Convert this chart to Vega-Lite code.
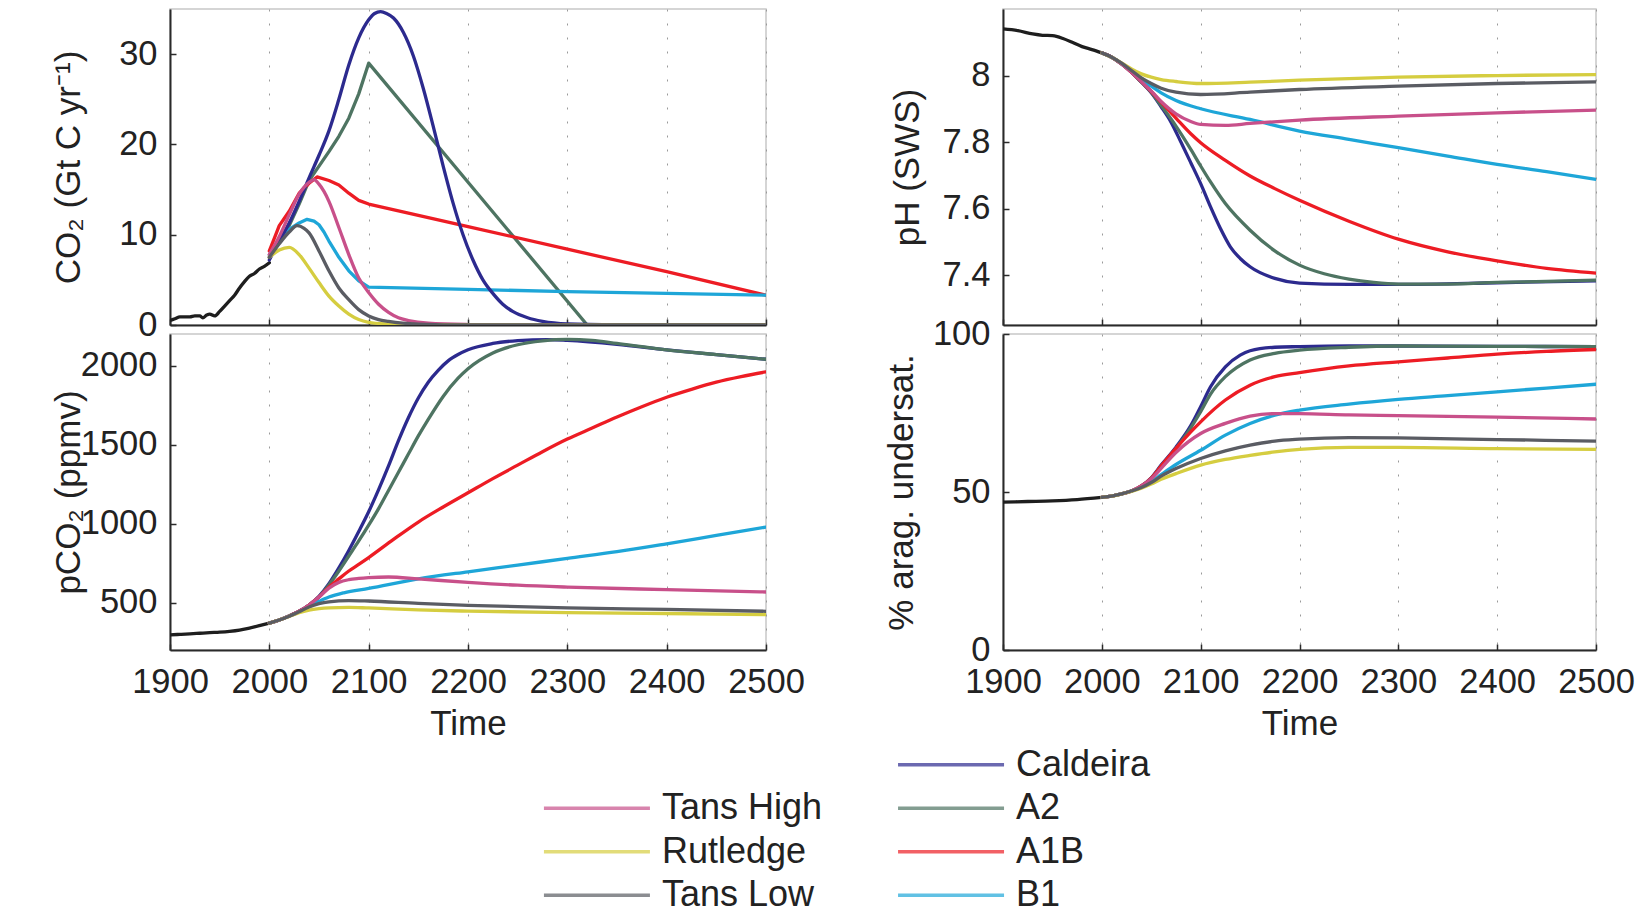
{
  "$schema": "https://vega.github.io/schema/vega-lite/v6.json",
  "padding": {"left": 50, "top": 8, "right": 5, "bottom": 0},
  "config": {
    "font": "Liberation Sans",
    "view": {"stroke": "#c8c8c8", "strokeWidth": 1.5},
    "axis": {"domainColor": "#2a2a2a", "domainWidth": 2, "tickColor": "#2a2a2a", "tickSize": -6, "tickWidth": 1.5, "labelFontSize": 34.5, "labelColor": "#222222", "titleFontSize": 35, "titleFontWeight": "normal", "titleColor": "#222222", "labelFont": "Liberation Sans", "titleFont": "Liberation Sans", "labelFlush": false, "labelOverlap": false},
    "axisX": {"grid": true, "gridDash": [2, 12], "gridColor": "#9a9a9a", "gridWidth": 1, "labelPadding": 21, "titlePadding": 8},
    "axisY": {"grid": false, "labelPadding": 19, "minExtent": 60, "maxExtent": 60, "titlePadding": 24},
    "line": {"strokeWidth": 3.3, "strokeCap": "round", "strokeJoin": "round"}
  },
  "datasets": {
    "co2": [
      {"series":"Hist","year":1900,"value":0.5},{"series":"Hist","year":1905,"value":0.7},{"series":"Hist","year":1910,"value":0.9},{"series":"Hist","year":1915,"value":0.9},{"series":"Hist","year":1920,"value":0.9},{"series":"Hist","year":1925,"value":1.0},{"series":"Hist","year":1930,"value":1.0},{"series":"Hist","year":1933,"value":0.8},{"series":"Hist","year":1937,"value":1.1},{"series":"Hist","year":1940,"value":1.2},{"series":"Hist","year":1945,"value":1.0},{"series":"Hist","year":1950,"value":1.5},{"series":"Hist","year":1955,"value":2.1},{"series":"Hist","year":1960,"value":2.7},{"series":"Hist","year":1965,"value":3.3},{"series":"Hist","year":1970,"value":4.1},{"series":"Hist","year":1975,"value":4.8},{"series":"Hist","year":1980,"value":5.4},{"series":"Hist","year":1985,"value":5.7},{"series":"Hist","year":1990,"value":6.2},{"series":"Hist","year":1995,"value":6.5},{"series":"Hist","year":2000,"value":6.9},
      {"series":"Caldeira","year":2000,"value":7.2},{"series":"Caldeira","year":2010,"value":9.3},{"series":"Caldeira","year":2020,"value":11.3},{"series":"Caldeira","year":2030,"value":13.7},{"series":"Caldeira","year":2040,"value":16.3},{"series":"Caldeira","year":2050,"value":18.8},{"series":"Caldeira","year":2060,"value":21.5},{"series":"Caldeira","year":2070,"value":25.0},{"series":"Caldeira","year":2080,"value":28.8},{"series":"Caldeira","year":2090,"value":31.8},{"series":"Caldeira","year":2100,"value":33.8},{"series":"Caldeira","year":2106,"value":34.5},{"series":"Caldeira","year":2112,"value":34.7},{"series":"Caldeira","year":2118,"value":34.5},{"series":"Caldeira","year":2125,"value":34.0},{"series":"Caldeira","year":2135,"value":32.4},{"series":"Caldeira","year":2145,"value":29.8},{"series":"Caldeira","year":2155,"value":26.2},{"series":"Caldeira","year":2165,"value":22.0},{"series":"Caldeira","year":2175,"value":17.6},{"series":"Caldeira","year":2185,"value":13.5},{"series":"Caldeira","year":2195,"value":10.0},{"series":"Caldeira","year":2205,"value":7.2},{"series":"Caldeira","year":2215,"value":5.0},{"series":"Caldeira","year":2225,"value":3.5},{"series":"Caldeira","year":2235,"value":2.3},{"series":"Caldeira","year":2245,"value":1.5},{"series":"Caldeira","year":2260,"value":0.8},{"series":"Caldeira","year":2275,"value":0.4},{"series":"Caldeira","year":2300,"value":0.12},{"series":"Caldeira","year":2350,"value":0.02},{"series":"Caldeira","year":2400,"value":0},{"series":"Caldeira","year":2500,"value":0},
      {"series":"A2","year":2000,"value":7.5},{"series":"A2","year":2010,"value":9.2},{"series":"A2","year":2020,"value":11.0},{"series":"A2","year":2030,"value":13.4},{"series":"A2","year":2040,"value":16.0},{"series":"A2","year":2050,"value":17.6},{"series":"A2","year":2060,"value":19.2},{"series":"A2","year":2070,"value":20.9},{"series":"A2","year":2080,"value":22.9},{"series":"A2","year":2090,"value":25.6},{"series":"A2","year":2100,"value":29.0},{"series":"A2","year":2320,"value":0},{"series":"A2","year":2500,"value":0},
      {"series":"A1B","year":2000,"value":8.2},{"series":"A1B","year":2005,"value":9.6},{"series":"A1B","year":2010,"value":11.0},{"series":"A1B","year":2015,"value":11.8},{"series":"A1B","year":2020,"value":12.6},{"series":"A1B","year":2025,"value":13.6},{"series":"A1B","year":2030,"value":14.6},{"series":"A1B","year":2040,"value":15.7},{"series":"A1B","year":2048,"value":16.4},{"series":"A1B","year":2060,"value":16.0},{"series":"A1B","year":2070,"value":15.5},{"series":"A1B","year":2080,"value":14.6},{"series":"A1B","year":2090,"value":13.8},{"series":"A1B","year":2100,"value":13.4},{"series":"A1B","year":2200,"value":10.9},{"series":"A1B","year":2300,"value":8.4},{"series":"A1B","year":2400,"value":5.9},{"series":"A1B","year":2500,"value":3.3},
      {"series":"B1","year":2000,"value":7.8},{"series":"B1","year":2010,"value":9.5},{"series":"B1","year":2020,"value":10.6},{"series":"B1","year":2030,"value":11.3},{"series":"B1","year":2038,"value":11.7},{"series":"B1","year":2045,"value":11.5},{"series":"B1","year":2050,"value":11.1},{"series":"B1","year":2055,"value":10.3},{"series":"B1","year":2060,"value":9.3},{"series":"B1","year":2070,"value":7.5},{"series":"B1","year":2080,"value":6.0},{"series":"B1","year":2090,"value":4.9},{"series":"B1","year":2100,"value":4.2},{"series":"B1","year":2200,"value":3.95},{"series":"B1","year":2300,"value":3.7},{"series":"B1","year":2400,"value":3.5},{"series":"B1","year":2500,"value":3.3},
      {"series":"Tans High","year":2000,"value":7.8},{"series":"Tans High","year":2010,"value":9.8},{"series":"Tans High","year":2020,"value":12.2},{"series":"Tans High","year":2030,"value":14.5},{"series":"Tans High","year":2040,"value":15.8},{"series":"Tans High","year":2045,"value":16.1},{"series":"Tans High","year":2050,"value":15.6},{"series":"Tans High","year":2055,"value":14.8},{"series":"Tans High","year":2060,"value":13.7},{"series":"Tans High","year":2070,"value":10.8},{"series":"Tans High","year":2080,"value":7.8},{"series":"Tans High","year":2090,"value":5.2},{"series":"Tans High","year":2100,"value":3.6},{"series":"Tans High","year":2110,"value":2.3},{"series":"Tans High","year":2120,"value":1.4},{"series":"Tans High","year":2130,"value":0.8},{"series":"Tans High","year":2140,"value":0.5},{"series":"Tans High","year":2160,"value":0.2},{"series":"Tans High","year":2200,"value":0.05},{"series":"Tans High","year":2250,"value":0},{"series":"Tans High","year":2500,"value":0},
      {"series":"Rutledge","year":2000,"value":7.5},{"series":"Rutledge","year":2010,"value":8.3},{"series":"Rutledge","year":2020,"value":8.6},{"series":"Rutledge","year":2030,"value":7.8},{"series":"Rutledge","year":2040,"value":6.3},{"series":"Rutledge","year":2050,"value":4.7},{"series":"Rutledge","year":2060,"value":3.2},{"series":"Rutledge","year":2070,"value":2.1},{"series":"Rutledge","year":2080,"value":1.2},{"series":"Rutledge","year":2090,"value":0.6},{"series":"Rutledge","year":2100,"value":0.3},{"series":"Rutledge","year":2120,"value":0.1},{"series":"Rutledge","year":2150,"value":0},{"series":"Rutledge","year":2500,"value":0},
      {"series":"Tans Low","year":2000,"value":7.5},{"series":"Tans Low","year":2010,"value":9.0},{"series":"Tans Low","year":2020,"value":10.3},{"series":"Tans Low","year":2028,"value":11.0},{"series":"Tans Low","year":2035,"value":10.7},{"series":"Tans Low","year":2040,"value":10.2},{"series":"Tans Low","year":2050,"value":8.2},{"series":"Tans Low","year":2060,"value":6.0},{"series":"Tans Low","year":2070,"value":4.1},{"series":"Tans Low","year":2080,"value":2.8},{"series":"Tans Low","year":2090,"value":1.7},{"series":"Tans Low","year":2100,"value":1.0},{"series":"Tans Low","year":2110,"value":0.6},{"series":"Tans Low","year":2120,"value":0.4},{"series":"Tans Low","year":2150,"value":0.1},{"series":"Tans Low","year":2200,"value":0},{"series":"Tans Low","year":2500,"value":0}
    ],
    "pco2": [
      {"series":"Hist","year":1900,"value":296},{"series":"Hist","year":1910,"value":299},{"series":"Hist","year":1920,"value":302},{"series":"Hist","year":1930,"value":306},{"series":"Hist","year":1940,"value":310},{"series":"Hist","year":1950,"value":313},{"series":"Hist","year":1960,"value":318},{"series":"Hist","year":1970,"value":326},{"series":"Hist","year":1980,"value":339},{"series":"Hist","year":1990,"value":354},{"series":"Hist","year":2000,"value":370},
      {"series":"Caldeira","year":2000,"value":370},{"series":"Caldeira","year":2010,"value":390},{"series":"Caldeira","year":2020,"value":415},{"series":"Caldeira","year":2030,"value":445},{"series":"Caldeira","year":2040,"value":485},{"series":"Caldeira","year":2050,"value":540},{"series":"Caldeira","year":2060,"value":620},{"series":"Caldeira","year":2070,"value":720},{"series":"Caldeira","year":2080,"value":830},{"series":"Caldeira","year":2090,"value":950},{"series":"Caldeira","year":2100,"value":1075},{"series":"Caldeira","year":2110,"value":1215},{"series":"Caldeira","year":2120,"value":1365},{"series":"Caldeira","year":2130,"value":1525},{"series":"Caldeira","year":2140,"value":1670},{"series":"Caldeira","year":2150,"value":1795},{"series":"Caldeira","year":2160,"value":1895},{"series":"Caldeira","year":2170,"value":1970},{"series":"Caldeira","year":2180,"value":2030},{"series":"Caldeira","year":2190,"value":2070},{"series":"Caldeira","year":2200,"value":2100},{"series":"Caldeira","year":2225,"value":2140},{"series":"Caldeira","year":2250,"value":2158},{"series":"Caldeira","year":2280,"value":2165},{"series":"Caldeira","year":2300,"value":2160},{"series":"Caldeira","year":2350,"value":2135},{"series":"Caldeira","year":2400,"value":2100},{"series":"Caldeira","year":2450,"value":2070},{"series":"Caldeira","year":2500,"value":2040},
      {"series":"A2","year":2000,"value":370},{"series":"A2","year":2010,"value":390},{"series":"A2","year":2020,"value":415},{"series":"A2","year":2030,"value":445},{"series":"A2","year":2040,"value":485},{"series":"A2","year":2050,"value":537},{"series":"A2","year":2060,"value":612},{"series":"A2","year":2070,"value":700},{"series":"A2","year":2080,"value":795},{"series":"A2","year":2090,"value":890},{"series":"A2","year":2100,"value":990},{"series":"A2","year":2110,"value":1095},{"series":"A2","year":2120,"value":1210},{"series":"A2","year":2130,"value":1325},{"series":"A2","year":2140,"value":1440},{"series":"A2","year":2150,"value":1555},{"series":"A2","year":2160,"value":1660},{"series":"A2","year":2175,"value":1805},{"series":"A2","year":2190,"value":1920},{"series":"A2","year":2200,"value":1980},{"series":"A2","year":2225,"value":2080},{"series":"A2","year":2250,"value":2132},{"series":"A2","year":2275,"value":2157},{"series":"A2","year":2300,"value":2166},{"series":"A2","year":2325,"value":2160},{"series":"A2","year":2350,"value":2140},{"series":"A2","year":2400,"value":2100},{"series":"A2","year":2450,"value":2070},{"series":"A2","year":2500,"value":2040},
      {"series":"A1B","year":2000,"value":370},{"series":"A1B","year":2010,"value":390},{"series":"A1B","year":2020,"value":415},{"series":"A1B","year":2030,"value":445},{"series":"A1B","year":2040,"value":485},{"series":"A1B","year":2050,"value":535},{"series":"A1B","year":2060,"value":598},{"series":"A1B","year":2070,"value":650},{"series":"A1B","year":2080,"value":700},{"series":"A1B","year":2090,"value":742},{"series":"A1B","year":2100,"value":785},{"series":"A1B","year":2125,"value":900},{"series":"A1B","year":2150,"value":1010},{"series":"A1B","year":2175,"value":1105},{"series":"A1B","year":2200,"value":1195},{"series":"A1B","year":2225,"value":1285},{"series":"A1B","year":2250,"value":1370},{"series":"A1B","year":2275,"value":1455},{"series":"A1B","year":2300,"value":1535},{"series":"A1B","year":2325,"value":1605},{"series":"A1B","year":2350,"value":1675},{"series":"A1B","year":2375,"value":1740},{"series":"A1B","year":2400,"value":1800},{"series":"A1B","year":2425,"value":1850},{"series":"A1B","year":2450,"value":1895},{"series":"A1B","year":2475,"value":1930},{"series":"A1B","year":2500,"value":1960},
      {"series":"B1","year":2000,"value":370},{"series":"B1","year":2010,"value":390},{"series":"B1","year":2020,"value":415},{"series":"B1","year":2030,"value":443},{"series":"B1","year":2040,"value":478},{"series":"B1","year":2050,"value":508},{"series":"B1","year":2060,"value":535},{"series":"B1","year":2075,"value":562},{"series":"B1","year":2100,"value":590},{"series":"B1","year":2150,"value":650},{"series":"B1","year":2200,"value":695},{"series":"B1","year":2250,"value":737},{"series":"B1","year":2300,"value":780},{"series":"B1","year":2350,"value":822},{"series":"B1","year":2400,"value":872},{"series":"B1","year":2450,"value":925},{"series":"B1","year":2500,"value":978},
      {"series":"Tans High","year":2000,"value":370},{"series":"Tans High","year":2010,"value":390},{"series":"Tans High","year":2020,"value":415},{"series":"Tans High","year":2030,"value":445},{"series":"Tans High","year":2040,"value":485},{"series":"Tans High","year":2050,"value":535},{"series":"Tans High","year":2060,"value":592},{"series":"Tans High","year":2070,"value":628},{"series":"Tans High","year":2080,"value":645},{"series":"Tans High","year":2090,"value":653},{"series":"Tans High","year":2100,"value":658},{"series":"Tans High","year":2120,"value":662},{"series":"Tans High","year":2150,"value":650},{"series":"Tans High","year":2200,"value":628},{"series":"Tans High","year":2250,"value":610},{"series":"Tans High","year":2300,"value":598},{"series":"Tans High","year":2400,"value":582},{"series":"Tans High","year":2500,"value":567},
      {"series":"Rutledge","year":2000,"value":370},{"series":"Rutledge","year":2010,"value":390},{"series":"Rutledge","year":2020,"value":413},{"series":"Rutledge","year":2030,"value":437},{"series":"Rutledge","year":2040,"value":453},{"series":"Rutledge","year":2050,"value":462},{"series":"Rutledge","year":2060,"value":467},{"series":"Rutledge","year":2080,"value":470},{"series":"Rutledge","year":2100,"value":466},{"series":"Rutledge","year":2150,"value":454},{"series":"Rutledge","year":2200,"value":446},{"series":"Rutledge","year":2300,"value":437},{"series":"Rutledge","year":2400,"value":431},{"series":"Rutledge","year":2500,"value":424},
      {"series":"Tans Low","year":2000,"value":370},{"series":"Tans Low","year":2010,"value":390},{"series":"Tans Low","year":2020,"value":414},{"series":"Tans Low","year":2030,"value":442},{"series":"Tans Low","year":2040,"value":472},{"series":"Tans Low","year":2050,"value":493},{"series":"Tans Low","year":2060,"value":505},{"series":"Tans Low","year":2080,"value":513},{"series":"Tans Low","year":2100,"value":510},{"series":"Tans Low","year":2150,"value":495},{"series":"Tans Low","year":2200,"value":483},{"series":"Tans Low","year":2300,"value":466},{"series":"Tans Low","year":2400,"value":457},{"series":"Tans Low","year":2500,"value":445}
    ],
    "ph": [
      {"series":"Hist","year":1900,"value":8.14},{"series":"Hist","year":1915,"value":8.135},{"series":"Hist","year":1930,"value":8.125},{"series":"Hist","year":1940,"value":8.121},{"series":"Hist","year":1950,"value":8.12},{"series":"Hist","year":1955,"value":8.117},{"series":"Hist","year":1960,"value":8.112},{"series":"Hist","year":1970,"value":8.1},{"series":"Hist","year":1980,"value":8.087},{"series":"Hist","year":1990,"value":8.078},{"series":"Hist","year":2000,"value":8.068},
      {"series":"Caldeira","year":2000,"value":8.068},{"series":"Caldeira","year":2010,"value":8.055},{"series":"Caldeira","year":2020,"value":8.035},{"series":"Caldeira","year":2030,"value":8.01},{"series":"Caldeira","year":2040,"value":7.98},{"series":"Caldeira","year":2050,"value":7.948},{"series":"Caldeira","year":2060,"value":7.906},{"series":"Caldeira","year":2070,"value":7.86},{"series":"Caldeira","year":2080,"value":7.8},{"series":"Caldeira","year":2090,"value":7.738},{"series":"Caldeira","year":2100,"value":7.675},{"series":"Caldeira","year":2110,"value":7.605},{"series":"Caldeira","year":2120,"value":7.54},{"series":"Caldeira","year":2130,"value":7.485},{"series":"Caldeira","year":2140,"value":7.45},{"series":"Caldeira","year":2150,"value":7.425},{"series":"Caldeira","year":2175,"value":7.39},{"series":"Caldeira","year":2200,"value":7.376},{"series":"Caldeira","year":2250,"value":7.372},{"series":"Caldeira","year":2300,"value":7.372},{"series":"Caldeira","year":2400,"value":7.377},{"series":"Caldeira","year":2500,"value":7.383},
      {"series":"A2","year":2000,"value":8.068},{"series":"A2","year":2010,"value":8.055},{"series":"A2","year":2020,"value":8.035},{"series":"A2","year":2030,"value":8.01},{"series":"A2","year":2040,"value":7.98},{"series":"A2","year":2050,"value":7.95},{"series":"A2","year":2060,"value":7.91},{"series":"A2","year":2075,"value":7.848},{"series":"A2","year":2090,"value":7.778},{"series":"A2","year":2100,"value":7.728},{"series":"A2","year":2110,"value":7.68},{"series":"A2","year":2125,"value":7.615},{"series":"A2","year":2150,"value":7.535},{"series":"A2","year":2175,"value":7.473},{"series":"A2","year":2200,"value":7.43},{"series":"A2","year":2225,"value":7.404},{"series":"A2","year":2250,"value":7.388},{"series":"A2","year":2275,"value":7.378},{"series":"A2","year":2300,"value":7.373},{"series":"A2","year":2350,"value":7.373},{"series":"A2","year":2400,"value":7.378},{"series":"A2","year":2450,"value":7.381},{"series":"A2","year":2500,"value":7.385},
      {"series":"A1B","year":2000,"value":8.068},{"series":"A1B","year":2010,"value":8.055},{"series":"A1B","year":2020,"value":8.035},{"series":"A1B","year":2030,"value":8.01},{"series":"A1B","year":2040,"value":7.982},{"series":"A1B","year":2050,"value":7.952},{"series":"A1B","year":2060,"value":7.92},{"series":"A1B","year":2075,"value":7.872},{"series":"A1B","year":2090,"value":7.825},{"series":"A1B","year":2100,"value":7.798},{"series":"A1B","year":2125,"value":7.745},{"series":"A1B","year":2150,"value":7.698},{"series":"A1B","year":2175,"value":7.66},{"series":"A1B","year":2200,"value":7.625},{"series":"A1B","year":2250,"value":7.562},{"series":"A1B","year":2300,"value":7.508},{"series":"A1B","year":2350,"value":7.47},{"series":"A1B","year":2400,"value":7.443},{"series":"A1B","year":2450,"value":7.42},{"series":"A1B","year":2500,"value":7.406},
      {"series":"B1","year":2000,"value":8.068},{"series":"B1","year":2010,"value":8.055},{"series":"B1","year":2020,"value":8.036},{"series":"B1","year":2030,"value":8.012},{"series":"B1","year":2040,"value":7.988},{"series":"B1","year":2050,"value":7.968},{"series":"B1","year":2060,"value":7.948},{"series":"B1","year":2075,"value":7.925},{"series":"B1","year":2100,"value":7.9},{"series":"B1","year":2150,"value":7.868},{"series":"B1","year":2200,"value":7.833},{"series":"B1","year":2250,"value":7.808},{"series":"B1","year":2300,"value":7.783},{"series":"B1","year":2350,"value":7.758},{"series":"B1","year":2400,"value":7.733},{"series":"B1","year":2450,"value":7.711},{"series":"B1","year":2500,"value":7.688},
      {"series":"Tans High","year":2000,"value":8.068},{"series":"Tans High","year":2010,"value":8.055},{"series":"Tans High","year":2020,"value":8.035},{"series":"Tans High","year":2030,"value":8.01},{"series":"Tans High","year":2040,"value":7.982},{"series":"Tans High","year":2050,"value":7.953},{"series":"Tans High","year":2060,"value":7.922},{"series":"Tans High","year":2075,"value":7.885},{"series":"Tans High","year":2090,"value":7.862},{"series":"Tans High","year":2100,"value":7.853},{"series":"Tans High","year":2125,"value":7.85},{"series":"Tans High","year":2150,"value":7.856},{"series":"Tans High","year":2200,"value":7.866},{"series":"Tans High","year":2300,"value":7.878},{"series":"Tans High","year":2400,"value":7.888},{"series":"Tans High","year":2500,"value":7.896},
      {"series":"Rutledge","year":2000,"value":8.068},{"series":"Rutledge","year":2010,"value":8.055},{"series":"Rutledge","year":2020,"value":8.038},{"series":"Rutledge","year":2030,"value":8.02},{"series":"Rutledge","year":2040,"value":8.005},{"series":"Rutledge","year":2050,"value":7.995},{"series":"Rutledge","year":2060,"value":7.988},{"series":"Rutledge","year":2075,"value":7.982},{"series":"Rutledge","year":2100,"value":7.976},{"series":"Rutledge","year":2150,"value":7.98},{"series":"Rutledge","year":2200,"value":7.986},{"series":"Rutledge","year":2300,"value":7.995},{"series":"Rutledge","year":2400,"value":8.0},{"series":"Rutledge","year":2500,"value":8.003},
      {"series":"Tans Low","year":2000,"value":8.068},{"series":"Tans Low","year":2010,"value":8.055},{"series":"Tans Low","year":2020,"value":8.037},{"series":"Tans Low","year":2030,"value":8.015},{"series":"Tans Low","year":2040,"value":7.993},{"series":"Tans Low","year":2050,"value":7.976},{"series":"Tans Low","year":2060,"value":7.962},{"series":"Tans Low","year":2075,"value":7.95},{"series":"Tans Low","year":2100,"value":7.943},{"series":"Tans Low","year":2150,"value":7.95},{"series":"Tans Low","year":2200,"value":7.958},{"series":"Tans Low","year":2300,"value":7.968},{"series":"Tans Low","year":2400,"value":7.976},{"series":"Tans Low","year":2500,"value":7.981}
    ],
    "arag": [
      {"series":"Hist","year":1900,"value":46.8},{"series":"Hist","year":1925,"value":47.0},{"series":"Hist","year":1950,"value":47.2},{"series":"Hist","year":1975,"value":47.6},{"series":"Hist","year":2000,"value":48.3},
      {"series":"Caldeira","year":2000,"value":48.3},{"series":"Caldeira","year":2010,"value":48.7},{"series":"Caldeira","year":2020,"value":49.4},{"series":"Caldeira","year":2030,"value":50.3},{"series":"Caldeira","year":2040,"value":51.9},{"series":"Caldeira","year":2050,"value":54.5},{"series":"Caldeira","year":2060,"value":58.5},{"series":"Caldeira","year":2075,"value":64.2},{"series":"Caldeira","year":2090,"value":71},{"series":"Caldeira","year":2100,"value":77},{"series":"Caldeira","year":2110,"value":83.3},{"series":"Caldeira","year":2125,"value":89.6},{"series":"Caldeira","year":2140,"value":93.3},{"series":"Caldeira","year":2150,"value":94.7},{"series":"Caldeira","year":2175,"value":95.8},{"series":"Caldeira","year":2200,"value":96},{"series":"Caldeira","year":2250,"value":96.2},{"series":"Caldeira","year":2300,"value":96.2},{"series":"Caldeira","year":2400,"value":96.1},{"series":"Caldeira","year":2500,"value":96},
      {"series":"A2","year":2000,"value":48.3},{"series":"A2","year":2010,"value":48.7},{"series":"A2","year":2020,"value":49.4},{"series":"A2","year":2030,"value":50.3},{"series":"A2","year":2040,"value":51.9},{"series":"A2","year":2050,"value":54.4},{"series":"A2","year":2060,"value":58.2},{"series":"A2","year":2075,"value":63.8},{"series":"A2","year":2090,"value":70.3},{"series":"A2","year":2100,"value":75.4},{"series":"A2","year":2110,"value":81},{"series":"A2","year":2125,"value":86.5},{"series":"A2","year":2150,"value":91.8},{"series":"A2","year":2175,"value":93.9},{"series":"A2","year":2200,"value":94.9},{"series":"A2","year":2250,"value":95.8},{"series":"A2","year":2300,"value":96.2},{"series":"A2","year":2400,"value":96.1},{"series":"A2","year":2500,"value":96},
      {"series":"A1B","year":2000,"value":48.3},{"series":"A1B","year":2010,"value":48.7},{"series":"A1B","year":2020,"value":49.4},{"series":"A1B","year":2030,"value":50.3},{"series":"A1B","year":2040,"value":51.9},{"series":"A1B","year":2050,"value":54.4},{"series":"A1B","year":2060,"value":58.2},{"series":"A1B","year":2075,"value":63.8},{"series":"A1B","year":2090,"value":69},{"series":"A1B","year":2100,"value":72.2},{"series":"A1B","year":2125,"value":79.1},{"series":"A1B","year":2150,"value":83.8},{"series":"A1B","year":2175,"value":86.5},{"series":"A1B","year":2200,"value":87.8},{"series":"A1B","year":2250,"value":89.9},{"series":"A1B","year":2300,"value":91.2},{"series":"A1B","year":2350,"value":92.4},{"series":"A1B","year":2400,"value":93.6},{"series":"A1B","year":2450,"value":94.5},{"series":"A1B","year":2500,"value":95.1},
      {"series":"B1","year":2000,"value":48.3},{"series":"B1","year":2010,"value":48.7},{"series":"B1","year":2020,"value":49.4},{"series":"B1","year":2030,"value":50.3},{"series":"B1","year":2040,"value":51.6},{"series":"B1","year":2050,"value":53.3},{"series":"B1","year":2060,"value":55.5},{"series":"B1","year":2075,"value":58.7},{"series":"B1","year":2100,"value":63.2},{"series":"B1","year":2125,"value":68},{"series":"B1","year":2150,"value":71.7},{"series":"B1","year":2175,"value":74.3},{"series":"B1","year":2200,"value":75.9},{"series":"B1","year":2250,"value":77.8},{"series":"B1","year":2300,"value":79.3},{"series":"B1","year":2350,"value":80.5},{"series":"B1","year":2400,"value":81.7},{"series":"B1","year":2450,"value":82.9},{"series":"B1","year":2500,"value":84.1},
      {"series":"Tans High","year":2000,"value":48.3},{"series":"Tans High","year":2010,"value":48.7},{"series":"Tans High","year":2020,"value":49.4},{"series":"Tans High","year":2030,"value":50.3},{"series":"Tans High","year":2040,"value":51.9},{"series":"Tans High","year":2050,"value":54.2},{"series":"Tans High","year":2060,"value":57.5},{"series":"Tans High","year":2075,"value":62.5},{"series":"Tans High","year":2100,"value":68.5},{"series":"Tans High","year":2125,"value":71.7},{"series":"Tans High","year":2150,"value":74},{"series":"Tans High","year":2175,"value":74.8},{"series":"Tans High","year":2200,"value":74.8},{"series":"Tans High","year":2250,"value":74.4},{"series":"Tans High","year":2300,"value":74.2},{"series":"Tans High","year":2400,"value":73.7},{"series":"Tans High","year":2500,"value":73.1},
      {"series":"Rutledge","year":2000,"value":48.3},{"series":"Rutledge","year":2010,"value":48.7},{"series":"Rutledge","year":2020,"value":49.4},{"series":"Rutledge","year":2030,"value":50.2},{"series":"Rutledge","year":2040,"value":51.2},{"series":"Rutledge","year":2050,"value":52.5},{"series":"Rutledge","year":2060,"value":54},{"series":"Rutledge","year":2075,"value":55.8},{"series":"Rutledge","year":2100,"value":58.5},{"series":"Rutledge","year":2125,"value":60.3},{"series":"Rutledge","year":2150,"value":61.6},{"series":"Rutledge","year":2175,"value":62.7},{"series":"Rutledge","year":2200,"value":63.5},{"series":"Rutledge","year":2250,"value":64.1},{"series":"Rutledge","year":2300,"value":64.1},{"series":"Rutledge","year":2400,"value":63.7},{"series":"Rutledge","year":2500,"value":63.5},
      {"series":"Tans Low","year":2000,"value":48.3},{"series":"Tans Low","year":2010,"value":48.7},{"series":"Tans Low","year":2020,"value":49.4},{"series":"Tans Low","year":2030,"value":50.3},{"series":"Tans Low","year":2040,"value":51.4},{"series":"Tans Low","year":2050,"value":53},{"series":"Tans Low","year":2060,"value":55},{"series":"Tans Low","year":2075,"value":57.4},{"series":"Tans Low","year":2100,"value":60.6},{"series":"Tans Low","year":2125,"value":63},{"series":"Tans Low","year":2150,"value":64.8},{"series":"Tans Low","year":2175,"value":66.1},{"series":"Tans Low","year":2200,"value":66.7},{"series":"Tans Low","year":2250,"value":67.2},{"series":"Tans Low","year":2300,"value":67.1},{"series":"Tans Low","year":2400,"value":66.6},{"series":"Tans Low","year":2500,"value":66.1}
    ],
    "legend": [
      {"series":"Caldeira","col":"L2","row":0},{"series":"A2","col":"L2","row":1},{"series":"A1B","col":"L2","row":2},{"series":"B1","col":"L2","row":3},
      {"series":"Tans High","col":"L1","row":1},{"series":"Rutledge","col":"L1","row":2},{"series":"Tans Low","col":"L1","row":3}
    ]
  },
  "vconcat": [
    {
      "hconcat": [
        {
          "bounds": "flush",
          "vconcat": [
            {
              "width": 596, "height": 316,
              "data": {"name": "co2"},
              "encoding": {
                "x": {"field": "year", "type": "quantitative", "scale": {"domain": [1900, 2500], "nice": false}, "axis": {"values": [1900, 2000, 2100, 2200, 2300, 2400, 2500], "labels": false, "title": null}},
                "y": {"field": "value", "type": "quantitative", "scale": {"domain": [0, 35], "nice": false, "zero": false}, "axis": {"values": [0, 10, 20, 30], "title": "CO₂ (Gt C yr⁻¹)"}},
                "color": {"field": "series", "type": "nominal", "legend": null, "scale": {"domain": ["Hist", "Caldeira", "A2", "A1B", "B1", "Tans High", "Rutledge", "Tans Low"], "range": ["#1e1e1e", "#2c2a8e", "#4e7462", "#ed1c24", "#1ea6d8", "#c8508a", "#d5cd40", "#5a5c63"]}}
              },
              "layer": [
                {
                  "transform": [{"filter": {"field": "series", "oneOf": ["A2", "A1B", "B1"]}}],
                  "mark": {"type": "line", "clip": true, "interpolate": "linear"}
                },
                {
                  "transform": [{"filter": {"field": "series", "oneOf": ["Hist", "Caldeira", "Tans High", "Rutledge", "Tans Low"]}}],
                  "mark": {"type": "line", "clip": true, "interpolate": "monotone"}
                }
              ]
            },
            {
              "width": 596, "height": 316,
              "data": {"name": "pco2"},
              "mark": {"type": "line", "clip": true, "interpolate": "monotone"},
              "encoding": {
                "x": {"field": "year", "type": "quantitative", "scale": {"domain": [1900, 2500], "nice": false}, "axis": {"values": [1900, 2000, 2100, 2200, 2300, 2400, 2500], "title": "Time", "format": "d"}},
                "y": {"field": "value", "type": "quantitative", "scale": {"domain": [200, 2200], "nice": false, "zero": false}, "axis": {"values": [500, 1000, 1500, 2000], "title": "pCO₂ (ppmv)", "format": "d"}},
                "color": {"field": "series", "type": "nominal", "legend": null}
              }
            }
          ],
          "spacing": 9
        },
        {
          "bounds": "flush",
          "vconcat": [
            {
              "width": 593, "height": 316,
              "data": {"name": "ph"},
              "mark": {"type": "line", "clip": true, "interpolate": "monotone"},
              "encoding": {
                "x": {"field": "year", "type": "quantitative", "scale": {"domain": [1900, 2500], "nice": false}, "axis": {"values": [1900, 2000, 2100, 2200, 2300, 2400, 2500], "labels": false, "title": null}},
                "y": {"field": "value", "type": "quantitative", "scale": {"domain": [7.25, 8.2], "nice": false, "zero": false}, "axis": {"values": [7.4, 7.6, 7.8, 8], "format": ".1~f", "title": "pH (SWS)", "titlePadding": 18}},
                "color": {"field": "series", "type": "nominal", "legend": null}
              }
            },
            {
              "width": 593, "height": 316,
              "data": {"name": "arag"},
              "mark": {"type": "line", "clip": true, "interpolate": "monotone"},
              "encoding": {
                "x": {"field": "year", "type": "quantitative", "scale": {"domain": [1900, 2500], "nice": false}, "axis": {"values": [1900, 2000, 2100, 2200, 2300, 2400, 2500], "title": "Time", "format": "d"}},
                "y": {"field": "value", "type": "quantitative", "scale": {"domain": [0, 100], "nice": false, "zero": false}, "axis": {"values": [0, 50, 100], "title": "% arag. undersat.", "titlePadding": 24}},
                "color": {"field": "series", "type": "nominal", "legend": null}
              }
            }
          ],
          "spacing": 9
        }
      ],
      "spacing": 77
    },
    {
      "width": 1000, "height": 174,
      "data": {"name": "legend"},
      "view": {"stroke": null},
      "encoding": {
        "x": {"field": "col", "type": "nominal", "scale": {"type": "point", "domain": ["L1", "L2"], "padding": 0.912, "align": 0.661}, "axis": null},
        "y": {"field": "row", "type": "ordinal", "scale": {"type": "point", "domain": [0, 1, 2, 3], "padding": 0.5}, "axis": null}
      },
      "layer": [
        {
          "mark": {"type": "tick", "orient": "horizontal", "size": 106, "thickness": 3.5},
          "encoding": {"color": {"field": "series", "type": "nominal", "legend": null}}
        },
        {
          "mark": {"type": "text", "align": "left", "baseline": "middle", "dx": 65, "fontSize": 36, "font": "Liberation Sans", "color": "#222222"},
          "encoding": {"text": {"field": "series", "type": "nominal"}}
        }
      ]
    }
  ],
  "spacing": 0
}
